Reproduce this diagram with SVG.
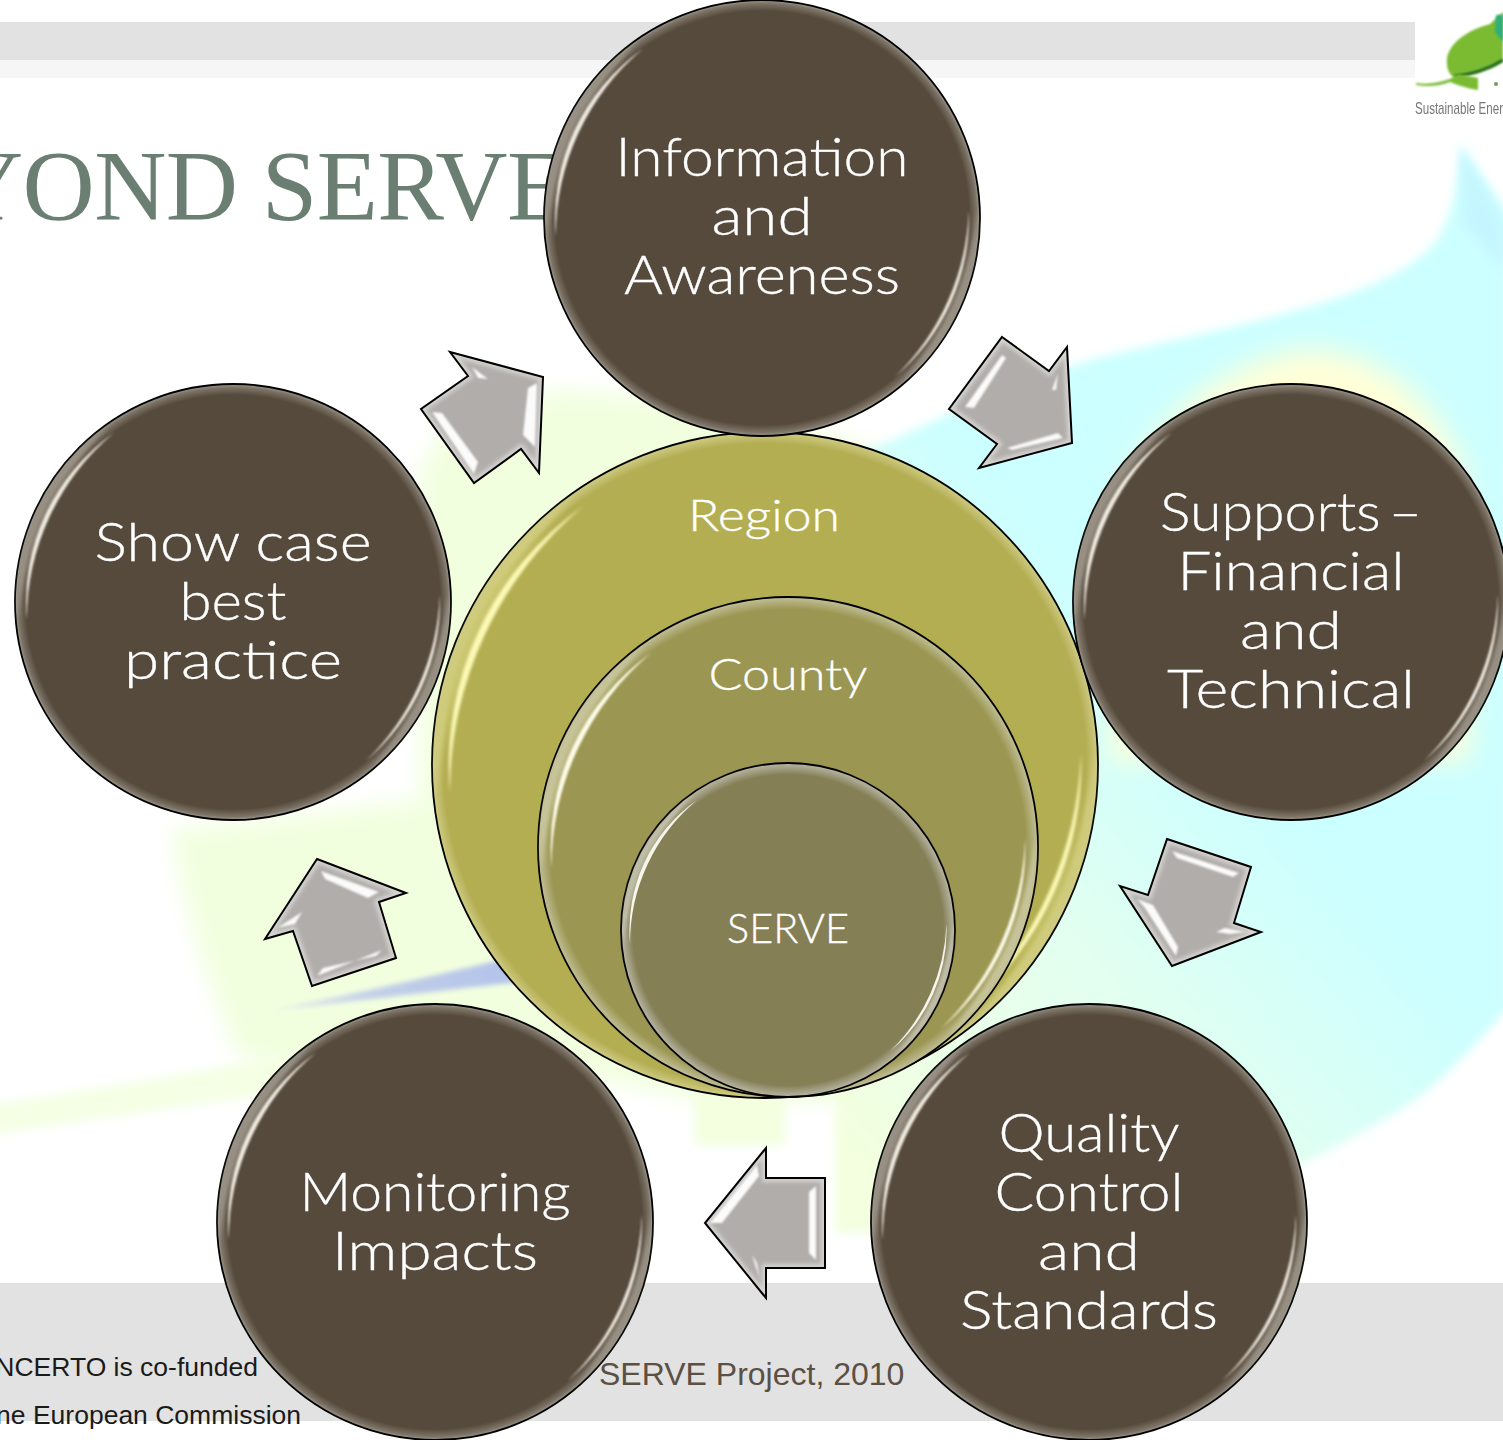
<svg xmlns="http://www.w3.org/2000/svg" width="1503" height="1440" viewBox="0 0 1503 1440">
<style>
.lbl{font-family:"Lato","Noto Sans",sans-serif;font-weight:300;fill:#fff;stroke:#fff;stroke-width:.35;text-anchor:middle}
.big{font-size:54px}
.mid{font-size:44px}
.sm{font-size:42px}
.node{stroke:#000;stroke-width:1.8}
.fill{fill:#b0adaa}
.edge{fill:none;stroke:#d6d4d2;stroke-width:8;filter:url(#b2)}
.line{fill:none;stroke:#000;stroke-width:2;stroke-linejoin:miter}
.shine{fill:#fff;filter:url(#b1);opacity:.95}
.foot{font-family:"Liberation Sans",Arial,sans-serif;font-size:26.5px;fill:#1a1a1a;text-anchor:end}
</style>
<defs>
<filter id="b1" x="-30%" y="-30%" width="160%" height="160%"><feGaussianBlur stdDeviation="1"/></filter>
<filter id="b2" x="-20%" y="-20%" width="140%" height="140%"><feGaussianBlur stdDeviation="2"/></filter>
<filter id="b4" x="-10%" y="-10%" width="120%" height="120%"><feGaussianBlur stdDeviation="5"/></filter>
<filter id="b8" x="-20%" y="-20%" width="140%" height="140%"><feGaussianBlur stdDeviation="10"/></filter>
<filter id="b10" x="-20%" y="-20%" width="140%" height="140%"><feGaussianBlur stdDeviation="14"/></filter>
<filter id="bT" x="-5%" y="-20%" width="110%" height="140%"><feGaussianBlur stdDeviation=".6"/></filter>
<filter id="bS" x="-10%" y="-50%" width="120%" height="200%"><feGaussianBlur stdDeviation="2.5"/></filter>
<filter id="bArc" x="-30%" y="-30%" width="160%" height="160%"><feGaussianBlur stdDeviation=".4"/></filter>
<filter id="bArcW" x="-30%" y="-30%" width="160%" height="160%"><feGaussianBlur stdDeviation=".9"/></filter>
<linearGradient id="sky" gradientUnits="userSpaceOnUse" x1="880" y1="1180" x2="1290" y2="820">
<stop offset="0" stop-color="#f3ffdf"/><stop offset=".55" stop-color="#e2fff0"/><stop offset="1" stop-color="#ccffff"/>
</linearGradient>
<linearGradient id="streak" gradientUnits="userSpaceOnUse" x1="270" y1="1010" x2="500" y2="965">
<stop offset="0" stop-color="#e6efe8"/><stop offset=".45" stop-color="#c2cfe8"/><stop offset="1" stop-color="#b4c4ea"/>
</linearGradient>
<radialGradient id="gDark"><stop offset=".95" stop-color="#564a3c"/><stop offset=".985" stop-color="#7d7568"/><stop offset="1" stop-color="#a09a8e"/></radialGradient>
<radialGradient id="gRegion"><stop offset=".965" stop-color="#b3ae52"/><stop offset="1" stop-color="#cfcb84"/></radialGradient>
<radialGradient id="gCounty"><stop offset=".95" stop-color="#9b9651"/><stop offset="1" stop-color="#c2bf98"/></radialGradient>
<radialGradient id="gServe"><stop offset=".93" stop-color="#857f56"/><stop offset="1" stop-color="#b9b7a5"/></radialGradient>
<g id="hl">
<path filter="url(#bArcW)" opacity=".32" d="M-98.6 8.6A99 99 0 0 1-56.8-81.1A150 150 0 0 0-98.6 8.6ZM98.9-3.5A99 99 0 0 1 63.6 75.8A150 150 0 0 0 98.9-3.5Z"/>
<path filter="url(#bArc)" d="M-94.6 8.3A95 95 0 0 1-54.5-77.8A112 112 0 0 0-94.6 8.3ZM94.9-3.3A95 95 0 0 1 61 72.8A112 112 0 0 0 94.9-3.3Z"/>
</g>
<path id="a1" d="M1002 337L1049 371L1067 347L1072 443L979 468L997 444L949 409Z"/>
<path id="a2" d="M1167 839L1251 867L1234 923L1261 932L1172 966L1120 886L1148 895Z"/>
<path id="a3" d="M766 1148V1178H825V1268H766V1298L705 1223Z"/>
<path id="a4" d="M317 859L406 893L379 902L396 958L312 986L293 931L265 939Z"/>
<path id="a5" d="M450 352L543 377L539 473L521 449L474 483L421 409L468 376Z"/>
<clipPath id="c1"><use href="#a1"/></clipPath>
<clipPath id="c2"><use href="#a2"/></clipPath>
<clipPath id="c3"><use href="#a3"/></clipPath>
<clipPath id="c4"><use href="#a4"/></clipPath>
<clipPath id="c5"><use href="#a5"/></clipPath>
</defs>

<rect width="1503" height="1440" fill="#fff"/>

<g id="background">
<path filter="url(#b8)" fill="#f2ffdf" d="M420 470L450 420L560 390L720 400L880 450L880 1100L700 1100L500 1060C380 1070 260 1075 235 1050C200 960 180 890 172 830L420 800Z"/>
<path filter="url(#b4)" fill="#f3ffdf" opacity=".85" d="M-10 1105C90 1090 200 1072 300 1052L420 1045L420 1075C300 1090 120 1115 -10 1135Z"/>
<path filter="url(#b4)" fill="url(#sky)" d="M880 445C960 410 1020 380 1090 360C1230 325 1400 300 1440 235C1456 205 1458 175 1460 145C1480 170 1495 195 1510 215V1005C1470 1050 1440 1085 1400 1110C1350 1140 1320 1155 1270 1180L1200 1233H835V1098H785V1145H695V1095L660 1000L700 500Z"/>
<path filter="url(#b10)" fill="#ffffd8" d="M1130 470C1180 395 1240 360 1300 350C1370 345 1430 390 1465 470L1470 760L1110 760Z"/>
<path filter="url(#bS)" fill="url(#streak)" d="M270 1010C340 997 440 975 520 955L520 982C440 990 350 1003 270 1010Z"/>
<rect x="1415" y="0" width="88" height="126" fill="#fff"/>
<path filter="url(#b4)" fill="#c0f0ff" opacity=".55" d="M1460 145C1475 170 1490 195 1503 220V270L1462 225Z"/>
</g>

<g id="header">
<rect x="0" y="22" width="1415" height="38" fill="#e2e2e2"/>
<rect x="0" y="60" width="1415" height="18" fill="#f6f6f6"/>
<text x="-49" y="219" font-family="'Liberation Serif',serif" font-size="100" fill="#6b7e72" textLength="617" lengthAdjust="spacing">YOND SERVE</text>
</g>

<g id="logo">
<path filter="url(#bArcW)" fill="#7abb33" d="M1503 12L1490 24C1468 30 1450 42 1447 58C1446 68 1449 75 1455 78C1475 76 1495 68 1503 62Z"/>
<path filter="url(#bArcW)" fill="#2fae7a" d="M1496 15L1503 15V42L1495 32Z"/>
<path filter="url(#bArcW)" fill="none" stroke="#14552a" stroke-width="2.5" d="M1455 76C1475 74 1490 68 1503 60"/>
<path filter="url(#bArcW)" fill="#7abb33" d="M1416 83C1430 85 1440 82 1450 79L1458 74L1478 78L1478 90C1465 88 1455 84 1450 82C1440 86 1428 87 1416 85Z"/>
<circle cx="1496" cy="84" r="2" fill="#7a9a5a"/>
<text x="1415" y="114" font-family="'Liberation Sans',sans-serif" font-size="17" fill="#777" textLength="88" lengthAdjust="spacingAndGlyphs" filter="url(#bT)">Sustainable Ener</text>
</g>

<g id="footer">
<rect x="0" y="1283" width="1503" height="138" fill="#e2e2e2"/>
<text class="foot" x="258" y="1376">NCERTO is co-funded</text>
<text class="foot" x="301" y="1424">ne European Commission</text>
<text x="599" y="1385" font-family="'Liberation Sans',sans-serif" font-size="32" fill="#5a5044">SERVE Project, 2010</text>
</g>

<g id="connectors">
<g id="arrow-top-right">
<use href="#a1" class="fill"/>
<g clip-path="url(#c1)"><use href="#a1" class="edge"/>
<path class="shine" d="M965 407L1002 355L1006 358L974 408ZM1007 448L1058 433L1063 438L1012 450ZM1052 390L1058 373L1056 390Z"/></g>
<use href="#a1" class="line"/>
</g>
<g id="arrow-right-down">
<use href="#a2" class="fill"/>
<g clip-path="url(#c2)"><use href="#a2" class="edge"/>
<path class="shine" d="M1172 851L1239 873L1233 877L1177 858ZM1137 899L1153 905L1178 947L1176 956L1145 908ZM1216 932L1225 928L1246 932L1230 934Z"/></g>
<use href="#a2" class="line"/>
</g>
<g id="arrow-bottom">
<use href="#a3" class="fill"/>
<g clip-path="url(#c3)"><use href="#a3" class="edge"/>
<path class="shine" d="M710 1223L722 1223L759 1176L757 1165ZM809 1192L816 1186V1260L809 1253ZM752 1255L760 1280L757 1263Z"/></g>
<use href="#a3" class="line"/>
</g>
<g id="arrow-left-up">
<use href="#a4" class="fill"/>
<g clip-path="url(#c4)"><use href="#a4" class="edge"/>
<path class="shine" d="M321 871L379 892L368 898L325 879ZM317 976L382 950L376 956L323 968ZM277 928L302 912L295 924Z"/></g>
<use href="#a4" class="line"/>
</g>
<g id="arrow-top-left">
<use href="#a5" class="fill"/>
<g clip-path="url(#c5)"><use href="#a5" class="edge"/>
<path class="shine" d="M432 412L442 413L478 462L474 474ZM472 367L488 379L478 378ZM528 388L537 383L535 447L523 435Z"/></g>
<use href="#a5" class="line"/>
</g>
</g>

<g id="node-region">
<circle class="node" cx="765" cy="765" r="333" fill="url(#gRegion)"/>
<use href="#hl" transform="translate(765 765) scale(3.33)" fill="#fbf9b4"/>
<text class="lbl mid" x="764" y="531" textLength="152" lengthAdjust="spacingAndGlyphs">Region</text>
</g>
<g id="node-county">
<circle class="node" cx="788" cy="847" r="250" fill="url(#gCounty)"/>
<use href="#hl" transform="translate(788 847) scale(2.5)" fill="#fdfbe8"/>
<text class="lbl mid" x="788" y="690" textLength="159" lengthAdjust="spacingAndGlyphs">County</text>
</g>
<g id="node-serve">
<circle class="node" cx="788" cy="930" r="167" fill="url(#gServe)"/>
<use href="#hl" transform="translate(788 930) scale(1.67)" fill="#f6f5ea"/>
<text class="lbl sm" x="788" y="943" textLength="122" lengthAdjust="spacingAndGlyphs">SERVE</text>
</g>

<g id="node-information">
<circle class="node" cx="762" cy="218" r="218" fill="url(#gDark)"/>
<use href="#hl" transform="translate(762 218) scale(2.18)" fill="#efeae0"/>
<text class="lbl big" x="762" y="176" textLength="293" lengthAdjust="spacingAndGlyphs">Information</text>
<text class="lbl big" x="762" y="235" textLength="101" lengthAdjust="spacingAndGlyphs">and</text>
<text class="lbl big" x="762" y="294" textLength="276" lengthAdjust="spacingAndGlyphs">Awareness</text>
</g>
<g id="node-supports">
<circle class="node" cx="1291" cy="602" r="218" fill="url(#gDark)"/>
<use href="#hl" transform="translate(1291 602) scale(2.18)" fill="#efeae0"/>
<text class="lbl big" x="1291" y="531" textLength="262" lengthAdjust="spacingAndGlyphs" word-spacing="-7">Supports –</text>
<text class="lbl big" x="1291" y="590" textLength="227" lengthAdjust="spacingAndGlyphs">Financial</text>
<text class="lbl big" x="1291" y="649" textLength="102" lengthAdjust="spacingAndGlyphs">and</text>
<text class="lbl big" x="1291" y="708" textLength="248" lengthAdjust="spacingAndGlyphs">Technical</text>
</g>
<g id="node-quality">
<circle class="node" cx="1089" cy="1222" r="218" fill="url(#gDark)"/>
<use href="#hl" transform="translate(1089 1222) scale(2.18)" fill="#efeae0"/>
<text class="lbl big" x="1089" y="1152" textLength="181" lengthAdjust="spacingAndGlyphs">Quality</text>
<text class="lbl big" x="1089" y="1211" textLength="189" lengthAdjust="spacingAndGlyphs">Control</text>
<text class="lbl big" x="1089" y="1270" textLength="102" lengthAdjust="spacingAndGlyphs">and</text>
<text class="lbl big" x="1089" y="1329" textLength="258" lengthAdjust="spacingAndGlyphs">Standards</text>
</g>
<g id="node-monitoring">
<circle class="node" cx="435" cy="1222" r="218" fill="url(#gDark)"/>
<use href="#hl" transform="translate(435 1222) scale(2.18)" fill="#efeae0"/>
<text class="lbl big" x="435" y="1211" textLength="271" lengthAdjust="spacingAndGlyphs">Monitoring</text>
<text class="lbl big" x="435" y="1270" textLength="206" lengthAdjust="spacingAndGlyphs">Impacts</text>
</g>
<g id="node-showcase">
<circle class="node" cx="233" cy="602" r="218" fill="url(#gDark)"/>
<use href="#hl" transform="translate(233 602) scale(2.18)" fill="#efeae0"/>
<text class="lbl big" x="233" y="561" textLength="277" lengthAdjust="spacingAndGlyphs">Show case</text>
<text class="lbl big" x="233" y="620" textLength="107" lengthAdjust="spacingAndGlyphs">best</text>
<text class="lbl big" x="233" y="679" textLength="218" lengthAdjust="spacingAndGlyphs">practice</text>
</g>
</svg>
